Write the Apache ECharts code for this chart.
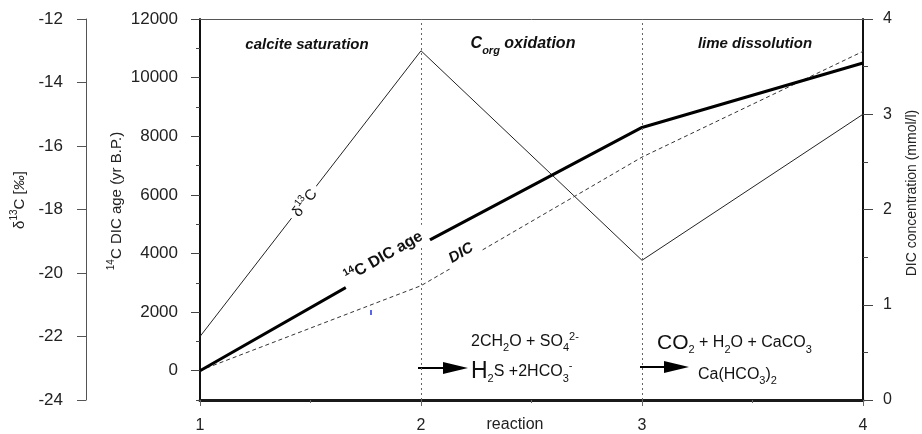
<!DOCTYPE html>
<html><head><meta charset="utf-8">
<script src="https://cdn.jsdelivr.net/npm/echarts@6/dist/echarts.min.js"></script>
<style>html,body{margin:0;padding:0;background:#fff}#c{width:922px;height:434px}</style>
</head><body><div id="c"></div>
<script>
// ---- data ----
const reactionSteps = [1, 2, 3, 4];
const d13C = [-22, -13, -19.6, -15];          // δ13C [‰]
const c14Age = [0, 4300, 8300, 10500];        // 14C DIC age (yr B.P.)
const dicConc = [0.31, 1.2, 2.55, 3.66];      // DIC concentration (mmol/l)
const ageLabelValues = [0, 2000, 4000, 6000, 8000, 10000, 12000];
const phaseMarks = [2, 3];

const FONT = "'Liberation Sans', Arial, sans-serif";
const chart = echarts.init(document.getElementById('c'), null, {renderer: 'canvas'});
const zip = ys => reactionSteps.map((x, i) => [x, ys[i]]);
const plain = v => String(v);

const option = {
  animation: false,
  textStyle: {fontFamily: FONT},
  grid: {left: 200, right: 59, top: 19, bottom: 30},
  xAxis: [{
    type: 'value', min: 1, max: 4, interval: 1, position: 'bottom',
    axisLine: {onZero: false, lineStyle: {color: '#1a1a1a', width: 3}},
    axisTick: {length: 6, lineStyle: {color: '#666'}},
    minorTick: {show: true, splitNumber: 2, length: 3, lineStyle: {color: '#666'}},
    axisLabel: {fontSize: 16, margin: 18, color: '#222', fontFamily: FONT, formatter: plain},
    splitLine: {show: false}
  }, {
    type: 'value', min: 1, max: 4, interval: 1, position: 'top',
    axisLine: {onZero: false, lineStyle: {color: '#555', width: 1}},
    axisTick: {show: false}, axisLabel: {show: false}, splitLine: {show: false}
  }],
  yAxis: [{
    type: 'value', position: 'left', min: -1000, max: 12000, interval: 1000,
    axisLine: {show: true, onZero: false, lineStyle: {color: '#111', width: 2}},
    axisTick: {show: true, length: 9, customValues: ageLabelValues, lineStyle: {color: '#444'}},
    axisLabel: {customValues: ageLabelValues, fontSize: 17, margin: 22, color: '#222', fontFamily: FONT, formatter: plain},
    splitLine: {show: false}
  }, {
    type: 'value', position: 'left', offset: 114, min: -24, max: -12, interval: 2,
    axisLine: {show: true, onZero: false, lineStyle: {color: '#555', width: 1}},
    axisTick: {show: true, length: 9, lineStyle: {color: '#555'}},
    axisLabel: {fontSize: 17, margin: 23, color: '#222', fontFamily: FONT, formatter: plain},
    splitLine: {show: false}
  }, {
    type: 'value', position: 'right', min: 0, max: 4, interval: 1,
    axisLine: {show: true, onZero: false, lineStyle: {color: '#111', width: 2}},
    axisTick: {show: true, length: 10, lineStyle: {color: '#444'}},
    minorTick: {show: true, splitNumber: 2, length: 5, lineStyle: {color: '#444'}},
    axisLabel: {fontSize: 16, margin: 20, color: '#222', fontFamily: FONT, formatter: plain},
    splitLine: {show: false}
  }, {
    type: 'value', position: 'left', min: -1000, max: 12000, interval: 1000,
    axisLine: {show: false, onZero: false},
    axisTick: {show: true, length: 4, lineStyle: {color: '#444'}},
    axisLabel: {show: false}, splitLine: {show: false}
  }],
  series: [{
    name: 'δ13C', type: 'line', xAxisIndex: 0, yAxisIndex: 1, data: zip(d13C),
    symbol: 'none', lineStyle: {color: '#222', width: 1}, z: 3
  }, {
    name: '14C DIC age', type: 'line', xAxisIndex: 0, yAxisIndex: 0, data: zip(c14Age),
    symbol: 'none', lineStyle: {color: '#000', width: 3}, z: 4
  }, {
    name: 'DIC', type: 'line', xAxisIndex: 0, yAxisIndex: 2, data: zip(dicConc),
    symbol: 'none', lineStyle: {color: '#333', width: 1, type: [4, 3]}, z: 3,
    markLine: {
      silent: true, symbol: ['none', 'none'], label: {show: false},
      lineStyle: {type: [2, 3], color: '#666', width: 1},
      data: phaseMarks.map(v => ({xAxis: v}))
    }
  }]
};
chart.setOption(option);

// ---- annotations ----
function lineLabel(yi, ys, xv, text, rich, offset) {
  const i = Math.min(Math.floor(xv) - 1, reactionSteps.length - 2);
  const t = xv - reactionSteps[i];
  const yv = ys[i] + t * (ys[i + 1] - ys[i]);
  const p = chart.convertToPixel({xAxisIndex: 0, yAxisIndex: yi}, [xv, yv]);
  const a = chart.convertToPixel({xAxisIndex: 0, yAxisIndex: yi}, [reactionSteps[i], ys[i]]);
  const b = chart.convertToPixel({xAxisIndex: 0, yAxisIndex: yi}, [reactionSteps[i + 1], ys[i + 1]]);
  const ang = Math.atan2(a[1] - b[1], b[0] - a[0]);
  return {
    type: 'text', x: p[0] - Math.sin(ang) * offset, y: p[1] - Math.cos(ang) * offset,
    rotation: ang, z: 20,
    style: {text, rich, align: 'center', verticalAlign: 'middle', textAlign: 'center', textVerticalAlign: 'middle',
      backgroundColor: '#fff', padding: [3, 5], fill: '#111', fontFamily: FONT}
  };
}
function txt(x, y, text, extra, rich) {
  return {type: 'text', x, y, z: 20, rotation: (extra && extra.rot) || 0,
    style: Object.assign({text, rich, fill: '#111', fontFamily: FONT, fontSize: 15,
      align: 'center', verticalAlign: 'middle', textAlign: 'center', textVerticalAlign: 'middle'}, extra && extra.style)};
}
function arrow(x1, x2, y) {
  return {type: 'group', z: 20, children: [
    {type: 'line', shape: {x1: x1, y1: y, x2: x2 - 22, y2: y}, style: {stroke: '#000', lineWidth: 2}},
    {type: 'polygon', shape: {points: [[x2 - 25, y - 6], [x2, y], [x2 - 25, y + 6]]}, style: {fill: '#000'}}
  ]};
}
const boldIt = {fontStyle: 'italic', fontWeight: 'bold', fontSize: 15, fill: '#111', fontFamily: FONT};
const f = (size, extra) => Object.assign({fontSize: size, fill: '#111', fontFamily: FONT}, extra || {});

const graphics = [
  lineLabel(1, d13C, 1.47, '{a|δ}{p|13}{a|C}',
    {a: f(15, {lineHeight: 18, verticalAlign: 'bottom'}), p: f(10, {lineHeight: 18, verticalAlign: 'top'})}, 0),
  lineLabel(0, c14Age, 1.85, '{p|14}{b|C DIC age}',
    {b: f(16, {fontWeight: 'bold', lineHeight: 18, verticalAlign: 'bottom'}),
     p: f(10, {fontWeight: 'bold', lineHeight: 18, verticalAlign: 'top'})}, 9),
  lineLabel(2, dicConc, 2.2, '{b|DIC}', {b: f(15, {fontWeight: 'bold', fontStyle: 'italic'})}, 8),
  // phase titles
  txt(307, 45, 'calcite saturation', {style: boldIt}),
  txt(523, 46, '{c|C}{s|org}{c| oxidation}', {style: {}},
    {c: Object.assign({}, boldIt, {fontSize: 16, lineHeight: 20, verticalAlign: 'top'}),
     s: Object.assign({}, boldIt, {fontSize: 11, lineHeight: 20, verticalAlign: 'bottom'})}),
  txt(755, 44, 'lime dissolution', {style: boldIt}),
  // reaction formulas
  txt(471, 342, '{n|2CH}{s|2}{n|O + SO}{s|4}{p|2-}', {style: {align: 'left', textAlign: 'left'}},
    {n: f(16, {lineHeight: 22, verticalAlign: 'middle'}), s: f(11, {lineHeight: 22, verticalAlign: 'bottom'}),
     p: f(11, {lineHeight: 22, verticalAlign: 'top'})}),
  txt(471, 372, '{h|H}{s|2}{n|S +2HCO}{s|3}{p|-}', {style: {align: 'left', textAlign: 'left'}},
    {h: f(23, {lineHeight: 24, verticalAlign: 'middle'}), n: f(16, {lineHeight: 24, verticalAlign: 'middle'}),
     s: f(11, {lineHeight: 24, verticalAlign: 'bottom'}), p: f(11, {lineHeight: 24, verticalAlign: 'top'})}),
  txt(657, 343, '{h|CO}{s|2}{n| + H}{s|2}{n|O + CaCO}{s|3}', {style: {align: 'left', textAlign: 'left'}},
    {h: f(21, {lineHeight: 24, verticalAlign: 'middle'}), n: f(16, {lineHeight: 24, verticalAlign: 'middle'}),
     s: f(11, {lineHeight: 24, verticalAlign: 'bottom'})}),
  txt(698, 375, '{n|Ca(HCO}{s|3}{n|)}{s|2}', {style: {align: 'left', textAlign: 'left'}},
    {n: f(16, {lineHeight: 22, verticalAlign: 'middle'}), s: f(11, {lineHeight: 22, verticalAlign: 'bottom'})}),
  arrow(418, 468, 368),
  arrow(640, 689, 367),
  // axis names
  txt(515, 425, 'reaction', {style: {fontSize: 16, fill: '#222'}}),
  txt(18, 200, '{a|δ}{p|13}{a|C [}{i|‰}{a|]}', {rot: Math.PI / 2, style: {}},
    {a: f(15, {lineHeight: 18, verticalAlign: 'bottom', fill: '#222'}), p: f(10, {lineHeight: 18, verticalAlign: 'top', fill: '#222'}),
     i: f(15, {lineHeight: 18, verticalAlign: 'bottom', fontStyle: 'italic', fill: '#222'})}),
  txt(115, 201, '{p|14}{a|C DIC age (yr B.P.)}', {rot: Math.PI / 2, style: {}},
    {a: f(15, {lineHeight: 18, verticalAlign: 'bottom', fill: '#222'}), p: f(10, {lineHeight: 18, verticalAlign: 'top', fill: '#222'})}),
  txt(912, 193, 'DIC concentration (mmol/l)', {rot: Math.PI / 2, style: {fontSize: 14, fill: '#222'}}),
  // small blue mark
  {type: 'line', z: 20, shape: {x1: 371, y1: 310, x2: 371, y2: 315}, style: {stroke: '#2233dd', lineWidth: 1.5}}
];
chart.setOption({graphic: graphics});
</script>
</body></html>
